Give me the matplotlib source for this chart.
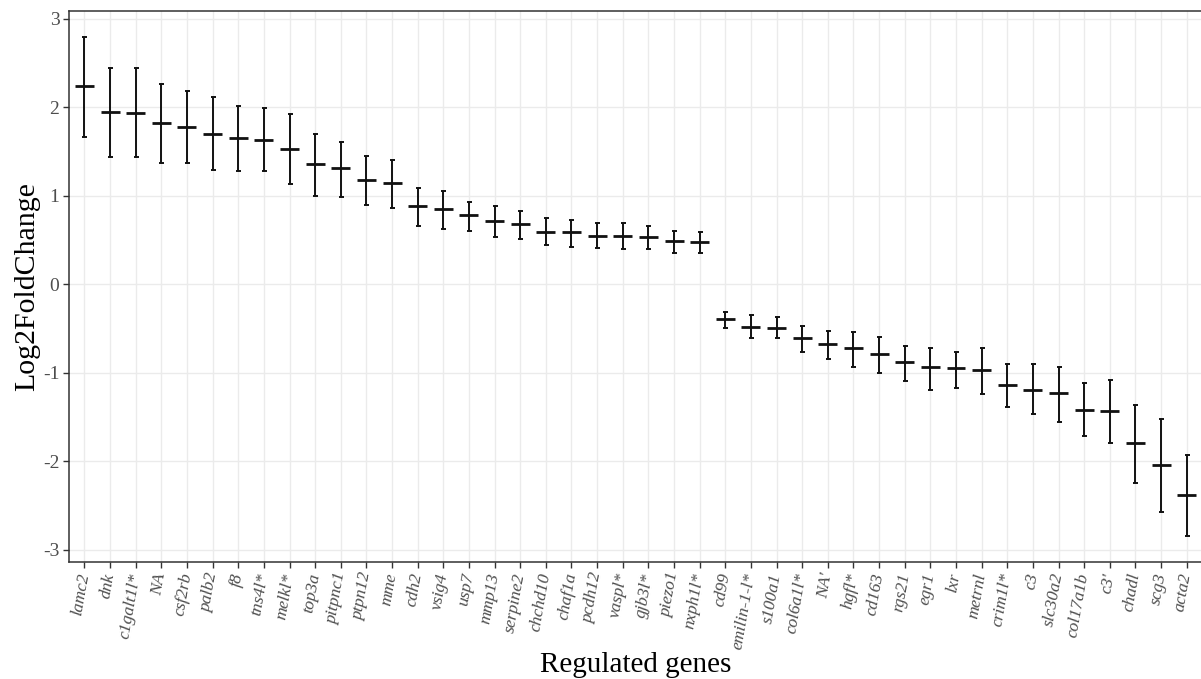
import matplotlib
matplotlib.use("Agg")
import matplotlib.pyplot as plt
import numpy as np

genes = ["lamc2", "dnk", "c1galt1l*", "NA", "csf2rb", "palb2", "f8", "tns4l*", "melkl*",
         "top3a", "pitpnc1", "ptpn12", "mme", "cdh2", "vsig4", "usp7", "mmp13", "serpine2",
         "chchd10", "chaf1a", "pcdh12", "vaspl*", "gjb3l*", "piezo1", "nxph1l*",
         "cd99", "emilin-1-l*", "s100a1", "col6a1l*", "NA'", "hgfl*", "cd163", "rgs21",
         "egr1", "lxr", "metrnl", "crim1l*", "c3", "slc30a2", "col17a1b", "c3'", "chadl",
         "scg3", "acta2"]

lfc = [2.24, 1.95, 1.94, 1.82, 1.78, 1.70, 1.65, 1.63, 1.53,
       1.36, 1.32, 1.18, 1.14, 0.88, 0.85, 0.78, 0.72, 0.68,
       0.59, 0.59, 0.55, 0.55, 0.54, 0.49, 0.48,
       -0.39, -0.48, -0.49, -0.61, -0.68, -0.72, -0.79, -0.88,
       -0.94, -0.95, -0.97, -1.14, -1.19, -1.23, -1.42, -1.43, -1.80,
       -2.04, -2.38]

upper = [2.80, 2.45, 2.44, 2.26, 2.19, 2.12, 2.02, 1.99, 1.92,
         1.70, 1.61, 1.45, 1.41, 1.09, 1.06, 0.93, 0.89, 0.83,
         0.75, 0.73, 0.69, 0.69, 0.66, 0.60, 0.59,
         -0.31, -0.35, -0.37, -0.47, -0.53, -0.54, -0.60, -0.70,
         -0.72, -0.77, -0.72, -0.90, -0.90, -0.94, -1.12, -1.08, -1.37,
         -1.52, -1.93]

lower = [1.66, 1.44, 1.44, 1.37, 1.37, 1.29, 1.28, 1.28, 1.13,
         1.00, 0.99, 0.90, 0.86, 0.66, 0.63, 0.60, 0.54, 0.51,
         0.44, 0.42, 0.41, 0.40, 0.40, 0.35, 0.35,
         -0.49, -0.61, -0.61, -0.77, -0.85, -0.93, -1.00, -1.09,
         -1.19, -1.17, -1.24, -1.39, -1.47, -1.56, -1.71, -1.80, -2.25,
         -2.58, -2.85]

yticks = [-3, -2, -1, 0, 1, 2, 3]

x = np.arange(len(genes))
lfc = np.array(lfc)
err = [lfc - np.array(lower), np.array(upper) - lfc]

fig = plt.figure(figsize=(12.01, 6.79), dpi=100)
ax = fig.add_axes([0.0575, 0.1723, 0.9434, 0.8115])

ax.grid(True, color="#ebebeb", linewidth=1.0)
ax.set_axisbelow(True)

ax.errorbar(x, lfc, yerr=err, fmt="none", ecolor="#111111", elinewidth=1.4,
            capsize=1.8, capthick=1.4, zorder=3)
ax.hlines(lfc, x - 0.37, x + 0.37, colors="#111111", linewidth=2.0, zorder=4)

ax.set_xlim(-0.6, 43.6)
ax.set_ylim(-3.14, 3.09)
ax.set_yticks(yticks)
ax.set_yticklabels([str(v) for v in yticks], family="Liberation Serif", fontsize=14,
                   color="#4d4d4d")
ax.set_xticks(x)
ax.set_xticklabels(genes, rotation=80, ha="right", va="center", rotation_mode="anchor",
                   family="Liberation Serif", style="italic", fontsize=12.5, color="#4d4d4d")

for side in ["left", "top", "bottom"]:
    ax.spines[side].set_color("#333333")
    ax.spines[side].set_linewidth(1.1)
ax.spines["right"].set_visible(False)
ax.tick_params(axis="both", color="#333333", length=4, width=1)
ax.tick_params(axis="y", pad=3)
ax.tick_params(axis="x", pad=4)

ax.set_ylabel("Log2FoldChange", family="Liberation Serif", fontsize=21.5, labelpad=2)
ax.set_xlabel("Regulated genes", family="Liberation Serif", fontsize=21, labelpad=1)

fig.savefig("out.png", dpi=100)
